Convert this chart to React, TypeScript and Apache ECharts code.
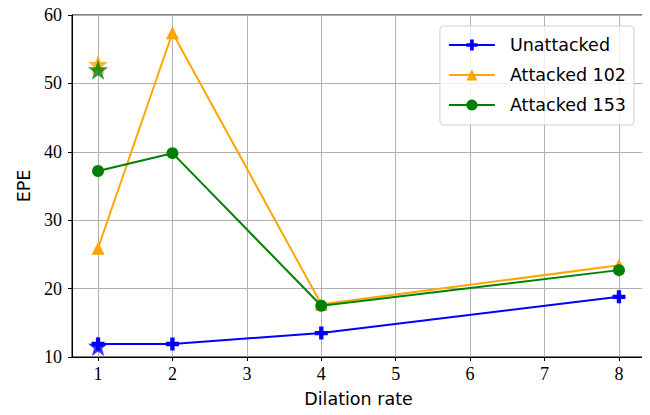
import React, { useEffect, useRef } from "react";
import * as echarts from "echarts";

const dilation = [1, 2, 4, 8];
const xTicks = [1, 2, 3, 4, 5, 6, 7, 8];
const unattacked = [11.9, 11.9, 13.5, 18.8];
const attacked102 = [25.9, 57.4, 17.7, 23.4];
const attacked153 = [37.2, 39.8, 17.5, 22.7];
const starUnattacked = [[1, 11.6]];
const star102 = [[1, 52.8]];
const star153 = [[1, 52.0]];

function starPath(): string {
  const pts: string[] = [];
  for (let i = 0; i < 10; i++) {
    const r = i % 2 === 0 ? 1 : 0.4;
    const a = -Math.PI / 2 + (i * Math.PI) / 5;
    pts.push(`${(r * Math.cos(a)).toFixed(3)},${(r * Math.sin(a)).toFixed(3)}`);
  }
  return "path://M" + pts.join(" L") + " Z";
}
const STAR = starPath();
const PLUS =
  "path://M-1,-3 L1,-3 L1,-1 L3,-1 L3,1 L1,1 L1,3 L-1,3 L-1,1 L-3,1 L-3,-1 L-1,-1 Z";

const SERIF = "Liberation Serif";
const SANS = "DejaVu Sans";

export default function App() {
  const ref = useRef<HTMLDivElement>(null);
  useEffect(() => {
    const chart = echarts.init(ref.current!, null, { renderer: "svg" });
    const pair = (ys: number[]) => dilation.map((x, i) => [x, ys[i]]);
    chart.setOption({
      animation: false,
      grid: {
        left: 72,
        right: 5,
        top: 15,
        bottom: 58,
        show: true,
        borderColor: "#000",
        borderWidth: 1,
      },
      xAxis: {
        type: "value",
        min: 0.65,
        max: 8.35,
        name: "Dilation rate",
        nameLocation: "middle",
        nameGap: 33,
        nameTextStyle: { fontFamily: SANS, fontSize: 17.5, color: "#000" },
        axisLine: { show: true, lineStyle: { color: "#000", width: 1 } },
        axisTick: {
          show: true,
          customValues: xTicks,
          length: 4,
          lineStyle: { color: "#000" },
        },
        axisLabel: {
          customValues: xTicks,
          fontFamily: SERIF,
          fontSize: 18,
          color: "#000",
          margin: 8,
        },
        splitLine: { show: true, lineStyle: { color: "#b0b0b0", width: 1 } },
      },
      yAxis: {
        type: "value",
        min: 10,
        max: 60,
        interval: 10,
        name: "EPE",
        nameLocation: "middle",
        nameGap: 38,
        nameTextStyle: { fontFamily: SANS, fontSize: 17.5, color: "#000" },
        axisLine: { show: true, lineStyle: { color: "#000", width: 1 } },
        axisTick: { show: true, length: 4, lineStyle: { color: "#000" } },
        axisLabel: { fontFamily: SERIF, fontSize: 18, color: "#000", margin: 10 },
        splitLine: { show: true, lineStyle: { color: "#b0b0b0", width: 1 } },
      },
      legend: {
        data: ["Unattacked", "Attacked 102", "Attacked 153"],
        orient: "vertical",
        right: 16,
        top: 26,
        itemWidth: 46,
        itemHeight: 14,
        itemGap: 10,
        padding: [9, 8, 10, 8],
        borderColor: "#d0d0d0",
        borderWidth: 1,
        borderRadius: 4,
        backgroundColor: "rgba(255,255,255,0.8)",
        textStyle: {
          fontFamily: SANS,
          fontSize: 17.5,
          color: "#000",
          padding: [0, 0, 0, 10],
          lineHeight: 20,
        },
      },
      series: [
        {
          name: "Unattacked",
          type: "line",
          data: pair(unattacked),
          color: "#0000ff",
          symbol: PLUS,
          symbolSize: 13,
          lineStyle: { width: 2 },
          z: 3,
        },
        {
          name: "Attacked 102",
          type: "line",
          data: pair(attacked102),
          color: "#ffa500",
          symbol: "triangle",
          symbolSize: 13,
          lineStyle: { width: 2 },
          z: 4,
        },
        {
          name: "Attacked 153",
          type: "line",
          data: pair(attacked153),
          color: "#008000",
          symbol: "circle",
          symbolSize: 12,
          lineStyle: { width: 2 },
          z: 5,
        },
        {
          name: "star-u",
          type: "scatter",
          data: starUnattacked,
          color: "#0000ff",
          symbol: STAR,
          symbolSize: 20,
          z: 6,
        },
        {
          name: "star-102",
          type: "scatter",
          data: star102,
          color: "#ffa500",
          symbol: STAR,
          symbolSize: 20,
          z: 6,
        },
        {
          name: "star-153",
          type: "scatter",
          data: star153,
          color: "#008000",
          symbol: STAR,
          symbolSize: 20,
          z: 7,
        },
      ],
    });
    return () => chart.dispose();
  }, []);
  return <div ref={ref} style={{ width: 650, height: 415, marginLeft: -8, marginTop: -8 }} />;
}
